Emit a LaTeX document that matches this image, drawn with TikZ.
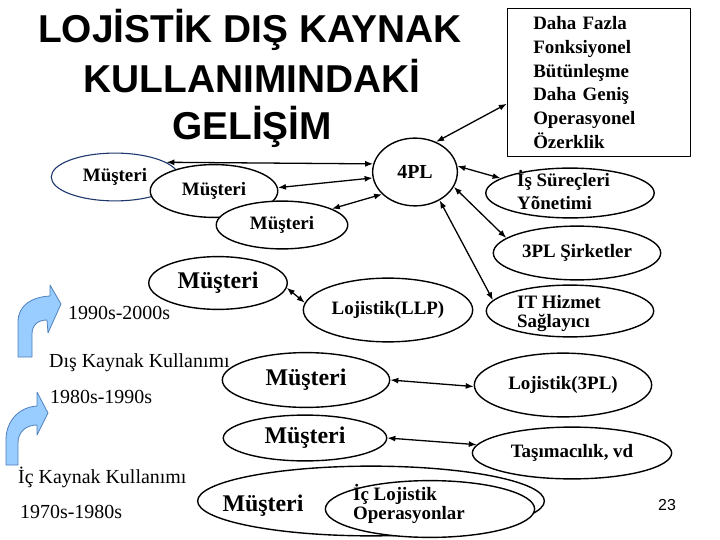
\documentclass[tikz,border=0pt]{standalone}
\usepackage{fontspec}
\setmainfont{Liberation Serif}
\newfontfamily\titlefont{Liberation Sans}
\usetikzlibrary{shapes.geometric,arrows.meta}
\definecolor{ovalblue}{RGB}{31,56,110}
\definecolor{bentfill}{RGB}{153,204,255}
\definecolor{bentline}{RGB}{79,129,189}
\tikzset{
  oval/.style={ellipse,draw,fill=white,line width=1.4pt,inner sep=0pt},
  lbl/.style={font=\bfseries\fontsize{19}{23}\selectfont,inner sep=0pt},
  bigl/.style={font=\bfseries\fontsize{24}{28}\selectfont,inner sep=0pt},
  plain/.style={font=\fontsize{20}{24}\selectfont,inner sep=0pt,anchor=base west},
  ttl/.style={font=\titlefont\bfseries\fontsize{39}{47}\selectfont,inner sep=0pt,anchor=base},
  link/.style={{Latex[length=8pt,width=6pt]}-{Latex[length=8pt,width=6pt]},line width=1.3pt},
  bent/.style={fill=bentfill,draw=bentline,line width=0.8pt},
}
\begin{document}
\begin{tikzpicture}[x=1bp,y=-1bp,>=latex,line join=bevel]
\useasboundingbox (0,0) rectangle (720,540);
%% title
\node (title_1) at (250,43) [ttl] {LOJİSTİK DIŞ KAYNAK};
\node (title_2) at (252,93) [ttl] {KULLANIMINDAKİ};
\node (title_3) at (252,140) [ttl] {GELİŞİM};
%% box
\node (box) at (599,82.5) [draw,line width=1pt,inner sep=0pt,minimum width=184,minimum height=149,
  text width=132,align=left,font=\bfseries\fontsize{19}{24}\selectfont]
  {Daha Fazla\\Fonksiyonel\\Bütünleşme\\Daha Geniş\\Operasyonel\\Özerklik};
%% 4PL level
\node (mus_1) at (115,177) [oval,draw=ovalblue,line width=1.1pt,minimum width=128,minimum height=48,lbl] {Müşteri};
\node (mus_2) at (214,191) [oval,minimum width=128,minimum height=53,lbl] {Müşteri};
\node (mus_3) at (282,225) [oval,minimum width=132,minimum height=48,lbl] {Müşteri};
\node (pl_4) at (415,172) [oval,minimum width=85,minimum height=68,font=\bfseries\fontsize{20}{24}\selectfont] {4PL};
\node (isy) at (570,193) [oval,minimum width=169,minimum height=50] {};
\node (isy_t) at (517,187) [lbl,anchor=base west] {\begin{tabular}[t]{@{}l@{}}İş Süreçleri\\Yõnetimi\end{tabular}};
\node (sir_3) at (577,253) [oval,minimum width=168,minimum height=54,lbl] {3PL Şirketler};
\node (ith) at (570,311) [oval,minimum width=168,minimum height=52] {};
\node (ith_t) at (517,308) [lbl,anchor=base west,font=\bfseries\fontsize{19}{20}\selectfont] {\begin{tabular}[t]{@{}l@{}}IT Hizmet\\Sağlayıcı\end{tabular}};
%% LLP level
\node (mus_b) at (218,283) [oval,minimum width=139,minimum height=53,bigl] {Müşteri};
\node (llp) at (388,310) [oval,minimum width=170,minimum height=64,lbl] {Lojistik(LLP)};
%% 3PL level
\node (mus_c) at (306,380) [oval,minimum width=168,minimum height=55,bigl] {Müşteri};
\node (pl_3) at (563,385) [oval,minimum width=178,minimum height=64,lbl] {Lojistik(3PL)};
\node (mus_d) at (305,438) [oval,minimum width=164,minimum height=46,bigl] {Müşteri};
\node (tas) at (572,453) [oval,minimum width=200,minimum height=52,lbl] {Taşımacılık, vd};
%% in-house level
\node (ic_big) at (371,501) [oval,minimum width=348,minimum height=70] {};
\node (ic_mus) at (263,506) [bigl] {Müşteri};
\node (icl) at (430,509) [oval,minimum width=210,minimum height=57] {};
\node (icl_t) at (353,500) [lbl,anchor=base west,font=\bfseries\fontsize{19}{20}\selectfont] {\begin{tabular}[t]{@{}l@{}}İç Lojistik\\Operasyonlar\end{tabular}};
%% links
\draw [link] (pl_4.169) -- (mus_1.16);
\draw [link] (pl_4.188) -- (mus_2.3);
\draw [link] (pl_4.214) -- (mus_3.18);
\draw [link] (pl_4.55) -- (box.193);
\draw [link] (pl_4.8) -- (isy.168);
\draw [link] (pl_4.339) -- (sir_3.168);
\draw [link] (pl_4.311) -- (ith.172);
\draw [link] (mus_b.356) -- (llp.175);
\draw [link] (mus_c.east) -- (pl_3.181);
\draw [link] (mus_d.east) -- (tas.175);
%% periods
\draw [bent] (18,357) -- (18,322) .. controls (18,305) and (32,297) .. (50,296) -- (50,285) -- (61,304)
  -- (48,333) -- (47,320) .. controls (38,320) and (32,325) .. (32,334) -- (32,357) -- cycle;
\draw [bent] (6,465) -- (6,440) .. controls (6,420) and (20,407) .. (37,406) -- (37,392) -- (48,413)
  -- (37,435) -- (37,425) .. controls (26,425) and (18,432) .. (18,443) -- (18,465) -- cycle;
\node (per_1) at (68,319) [plain] {1990s-2000s};
\node (dis_k) at (49,367) [plain] {Dış Kaynak Kullanımı};
\node (per_2) at (50,403) [plain] {1980s-1990s};
\node (ic_k) at (18,483) [plain] {İç Kaynak Kullanımı};
\node (per_3) at (20,518) [plain] {1970s-1980s};
\node (page_no) at (667,505) [font=\titlefont\fontsize{16}{18}\selectfont] {23};
%
\end{tikzpicture}
\end{document}
